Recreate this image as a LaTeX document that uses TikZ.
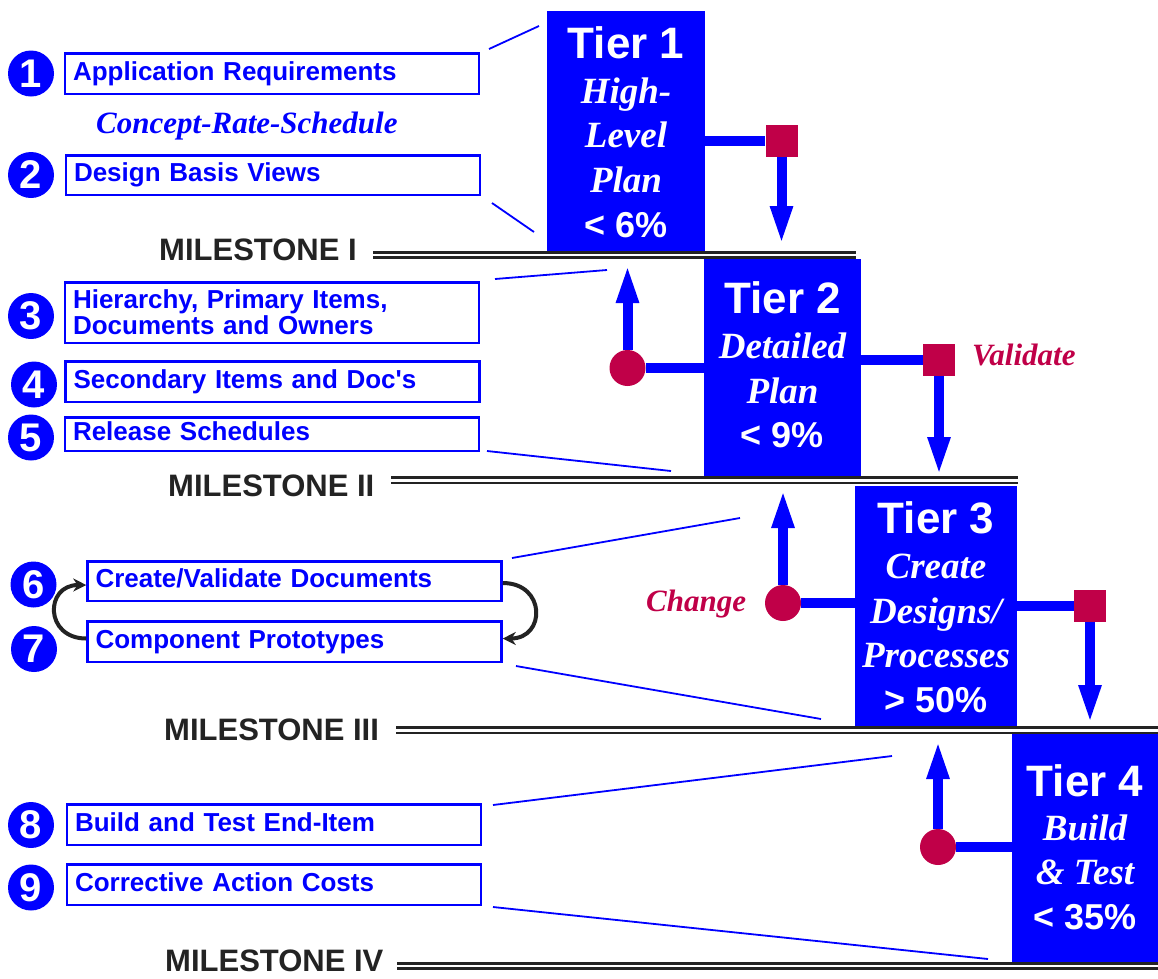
\documentclass[tikz,border=0pt]{standalone}
\usepackage{fontspec}
\usetikzlibrary{arrows.meta,calc}
\newfontfamily\hsans{Liberation Sans}
\newfontfamily\tserif{Liberation Serif}
\definecolor{pblue}{RGB}{0,0,255}
\definecolor{crim}{RGB}{192,0,72}
\definecolor{msgray}{RGB}{35,35,35}
\begin{document}
\begin{tikzpicture}[x=1pt,y=-1pt,
 tierbox/.style={fill=pblue, draw=none, inner sep=0pt},
 tiertitle/.style={anchor=base, text=white, inner sep=0pt, font=\hsans\bfseries\fontsize{44}{44}\selectfont},
 tierit/.style={anchor=base, text=white, inner sep=0pt, font=\tserif\bfseries\itshape\fontsize{37}{37}\selectfont},
 tierpct/.style={anchor=base, text=white, inner sep=0pt, font=\hsans\bfseries\fontsize{36}{36}\selectfont},
 itembase/.style={draw=pblue, line width=2.5pt, text=pblue, font=\hsans\bfseries\fontsize{26}{26}\selectfont, text width=398pt, inner xsep=8pt, inner ysep=0pt, align=left},
 itembox/.style={itembase, text height=19pt, text depth=6pt},
 numdot/.style={circle, fill=pblue, minimum size=46pt, inner sep=0pt, text=white, font=\hsans\bfseries\fontsize{40}{40}\selectfont},
 mstext/.style={anchor=base west, inner sep=0pt, text=msgray, font=\hsans\bfseries\fontsize{31}{31}\selectfont},
 msline/.style={draw=msgray, line width=2.8pt},
 leader/.style={draw=pblue, line width=1.8pt},
 conn/.style={draw=pblue, line width=10pt},
 arrowconn/.style={conn, -{Triangle[length=40pt,width=20pt]}},
 sqnode/.style={rectangle, fill=crim, minimum size=32pt, inner sep=0pt},
 dotnode/.style={circle, fill=crim, minimum size=36pt, inner sep=0pt},
 redlabel/.style={anchor=base west, inner sep=0pt, text=crim, font=\tserif\bfseries\itshape\fontsize{31}{31}\selectfont},
 bluelabel/.style={anchor=base west, inner sep=0pt, text=pblue, font=\tserif\bfseries\itshape\fontsize{31}{31}\selectfont},
 looparrow/.style={draw=msgray, line width=4pt, -{Stealth[length=13pt,width=13pt]}}
]
\fill[white] (0,0) rectangle (1158,978);
\useasboundingbox (0,0) rectangle (1158,978);

% ---------- tier boxes ----------
\node[tierbox, minimum width=158pt, minimum height=241pt] (t1) at (626,131.5) {};
\node[tierbox, minimum width=157pt, minimum height=220pt] (t2) at (782.5,369) {};
\node[tierbox, minimum width=162pt, minimum height=241pt] (t3) at (936,606.5) {};
\node[tierbox, minimum width=160pt, minimum height=228pt] (t4) at (1092,848) {};

\node[tiertitle] (t1a) at (626,58) {Tier 1};
\node[tierit] (t1b) at (626,103) {High-};
\node[tierit] (t1c) at (626,147) {Level};
\node[tierit] (t1d) at (626,192) {Plan};
\node[tierpct] (t1e) at (626,237) {< 6\%};

\node[tiertitle] (t2a) at (782.5,313) {Tier 2};
\node[tierit] (t2b) at (782.5,358) {Detailed};
\node[tierit] (t2c) at (782.5,403) {Plan};
\node[tierpct] (t2d) at (782.5,447) {< 9\%};

\node[tiertitle] (t3a) at (936,533) {Tier 3};
\node[tierit] (t3b) at (936,578) {Create};
\node[tierit] (t3c) at (936,623) {Designs/};
\node[tierit] (t3d) at (936,667) {Processes};
\node[tierpct] (t3e) at (936,712) {> 50\%};

\node[tiertitle] (t4a) at (1085,796) {Tier 4};
\node[tierit] (t4b) at (1085,840) {Build};
\node[tierit] (t4c) at (1085,884) {\& Test};
\node[tierpct] (t4d) at (1085,929) {< 35\%};

% ---------- milestones ----------
\node[mstext] (ms1) at (159,260) {MILESTONE I};
\node[mstext] (ms2) at (168,496) {MILESTONE II};
\node[mstext] (ms3) at (164,740) {MILESTONE III};
\node[mstext] (ms4) at (165,971) {MILESTONE IV};
\draw[msline] (373,252.5) -- (856,252.5);
\draw[msline] (373,257.5) -- (856,257.5);
\draw[msline] (391,477.5) -- (1018,477.5);
\draw[msline] (391,483) -- (1018,483);
\draw[msline] (396,727.5) -- (1160,727.5);
\draw[msline] (396,733) -- (1160,733);
\draw[msline] (397,963.5) -- (1160,963.5);
\draw[msline] (397,968.5) -- (1160,968.5);

% ---------- validate / change markers ----------
\node[sqnode] (sq1) at (781.5,140.5) {};
\node[dotnode] (c2) at (627.5,368) {};
\node[sqnode] (sq2) at (939,359.5) {};
\node[dotnode] (c3) at (783,603) {};
\node[sqnode] (sq3) at (1090,606) {};
\node[dotnode] (c4) at (938,847) {};

\coordinate (a1) at (781.5,246);
\coordinate (a2) at (627.5,263);
\coordinate (a3) at (939,477);
\coordinate (a4) at (783,488);
\coordinate (a5) at (1090,725);
\coordinate (a6) at (938,739);

\draw[conn] (t1.east |- sq1) -- (sq1.west);
\draw[arrowconn] (sq1.south) -- (a1);
\draw[conn] (c2.east) -- (t2.west |- c2);
\draw[arrowconn] (c2.north) -- (a2);
\draw[conn] (t2.east |- sq2) -- (sq2.west);
\draw[arrowconn] (sq2.south) -- (a3);
\draw[conn] (c3.east) -- (t3.west |- c3);
\draw[arrowconn] (c3.north) -- (a4);
\draw[conn] (t3.east |- sq3) -- (sq3.west);
\draw[arrowconn] (sq3.south) -- (a5);
\draw[conn] (c4.east) -- (t4.west |- c4);
\draw[arrowconn] (c4.north) -- (a6);

\node[redlabel] (val) at (972,365) {Validate};
\node[redlabel] (chg) at (646,611) {Change};

% ---------- item boxes ----------
\node[itembox, minimum height=40.5pt] (b1) at (272,73.5) {Application Requirements};
\node[bluelabel] (crs) at (96,133) {Concept-Rate-Schedule};
\node[itembox, minimum height=39.5pt] (b2) at (273,175) {Design Basis Views};
\node[itembase, minimum height=60.5pt] (b3) at (272,312.5) {Hierarchy, Primary Items,\\Documents and Owners};
\node[itembox, minimum height=40.5pt] (b4) at (272.5,381.5) {Secondary Items and Doc\textquotesingle s};
\node[itembox, minimum height=33.5pt] (b5) at (272,434) {Release Schedules};
\node[itembox, minimum height=39.5pt] (b6) at (294.5,581) {Create/Validate Documents};
\node[itembox, minimum height=40.5pt] (b7) at (294.5,641.5) {Component Prototypes};
\node[itembox, minimum height=40.5pt] (b8) at (274,824.5) {Build and Test End-Item};
\node[itembox, minimum height=40.5pt] (b9) at (274,884.5) {Corrective Action Costs};

\node[numdot] (n1) at (31,73.5) {1};
\node[numdot] (n2) at (31,175) {2};
\node[numdot] (n3) at (31,316) {3};
\node[numdot] (n4) at (34,384.5) {4};
\node[numdot] (n5) at (31,437.5) {5};
\node[numdot] (n6) at (33.5,584.5) {6};
\node[numdot] (n7) at (34,649) {7};
\node[numdot] (n8) at (31,825) {8};
\node[numdot] (n9) at (31,887.5) {9};

% ---------- loop arrows ----------
\draw[looparrow] ($(b7.west)+(0,-3)$) to[out=180,in=180,looseness=2] ($(b6.west)+(0,4)$);
\draw[looparrow] ($(b6.east)+(0,2)$) to[out=0,in=0,looseness=2] ($(b7.east)+(0,-3)$);

% ---------- leader lines ----------
\coordinate (l1a) at (489,49);  \coordinate (l1b) at (539,26);
\coordinate (l2a) at (492,203); \coordinate (l2b) at (534,232);
\coordinate (l3a) at (495,279); \coordinate (l3b) at (607,270);
\coordinate (l4a) at (487,451); \coordinate (l4b) at (671,471);
\coordinate (l5a) at (512,558); \coordinate (l5b) at (740,518);
\coordinate (l6a) at (516,666); \coordinate (l6b) at (821,719);
\coordinate (l7a) at (493,805); \coordinate (l7b) at (892,756);
\coordinate (l8a) at (493,907); \coordinate (l8b) at (988,959);
\draw[leader] (l1a) -- (l1b);
\draw[leader] (l2a) -- (l2b);
\draw[leader] (l3a) -- (l3b);
\draw[leader] (l4a) -- (l4b);
\draw[leader] (l5a) -- (l5b);
\draw[leader] (l6a) -- (l6b);
\draw[leader] (l7a) -- (l7b);
\draw[leader] (l8a) -- (l8b);
\end{tikzpicture}
\end{document}
